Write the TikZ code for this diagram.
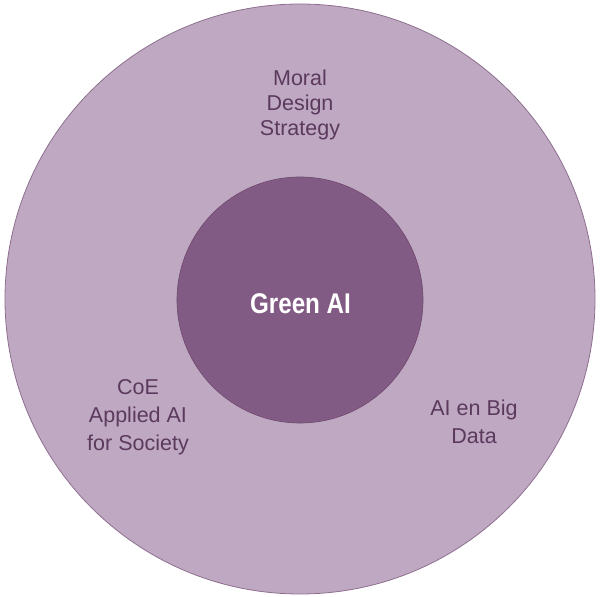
\documentclass[tikz,border=0pt]{standalone}
\usepackage{fontspec}
\setmainfont{Liberation Sans}
\newfontfamily\greenfont[FakeStretch=0.85]{Liberation Sans}
\definecolor{outerfill}{HTML}{BFA8C1}
\definecolor{innerfill}{HTML}{825B85}
\definecolor{ringline}{HTML}{8E6F90}
\definecolor{coreline}{HTML}{6E4A70}
\definecolor{textpurple}{HTML}{5B3A5E}
\begin{document}
\begin{tikzpicture}[x=1pt,y=1pt,
    teamtext/.style={align=center, text=textpurple, font=\fontsize{21.5}{25}\selectfont},
    widetext/.style={teamtext, font=\fontsize{21.5}{28}\selectfont}]
    %% frame
    \useasboundingbox (0,0) rectangle (600,597);
    %% circles
    \draw[ringline, fill=outerfill, line width=0.8pt] (300,298) circle (295pt);
    \draw[coreline, fill=innerfill, line width=0.6pt] (300,297) circle (123pt);
    %% core
    \node[text=white, font=\greenfont\bfseries\fontsize{28.5}{32}\selectfont] (green) at (300.5,293.5) {Green AI};
    %% groups
    \node[teamtext] (moral) at (300,492) {Moral\\Design\\Strategy};
    \node[widetext] (coe) at (138,179.5) {CoE\\Applied AI\\for Society};
    \node[widetext] (bigdata) at (474,175) {AI en Big\\Data};
\end{tikzpicture}
\end{document}
